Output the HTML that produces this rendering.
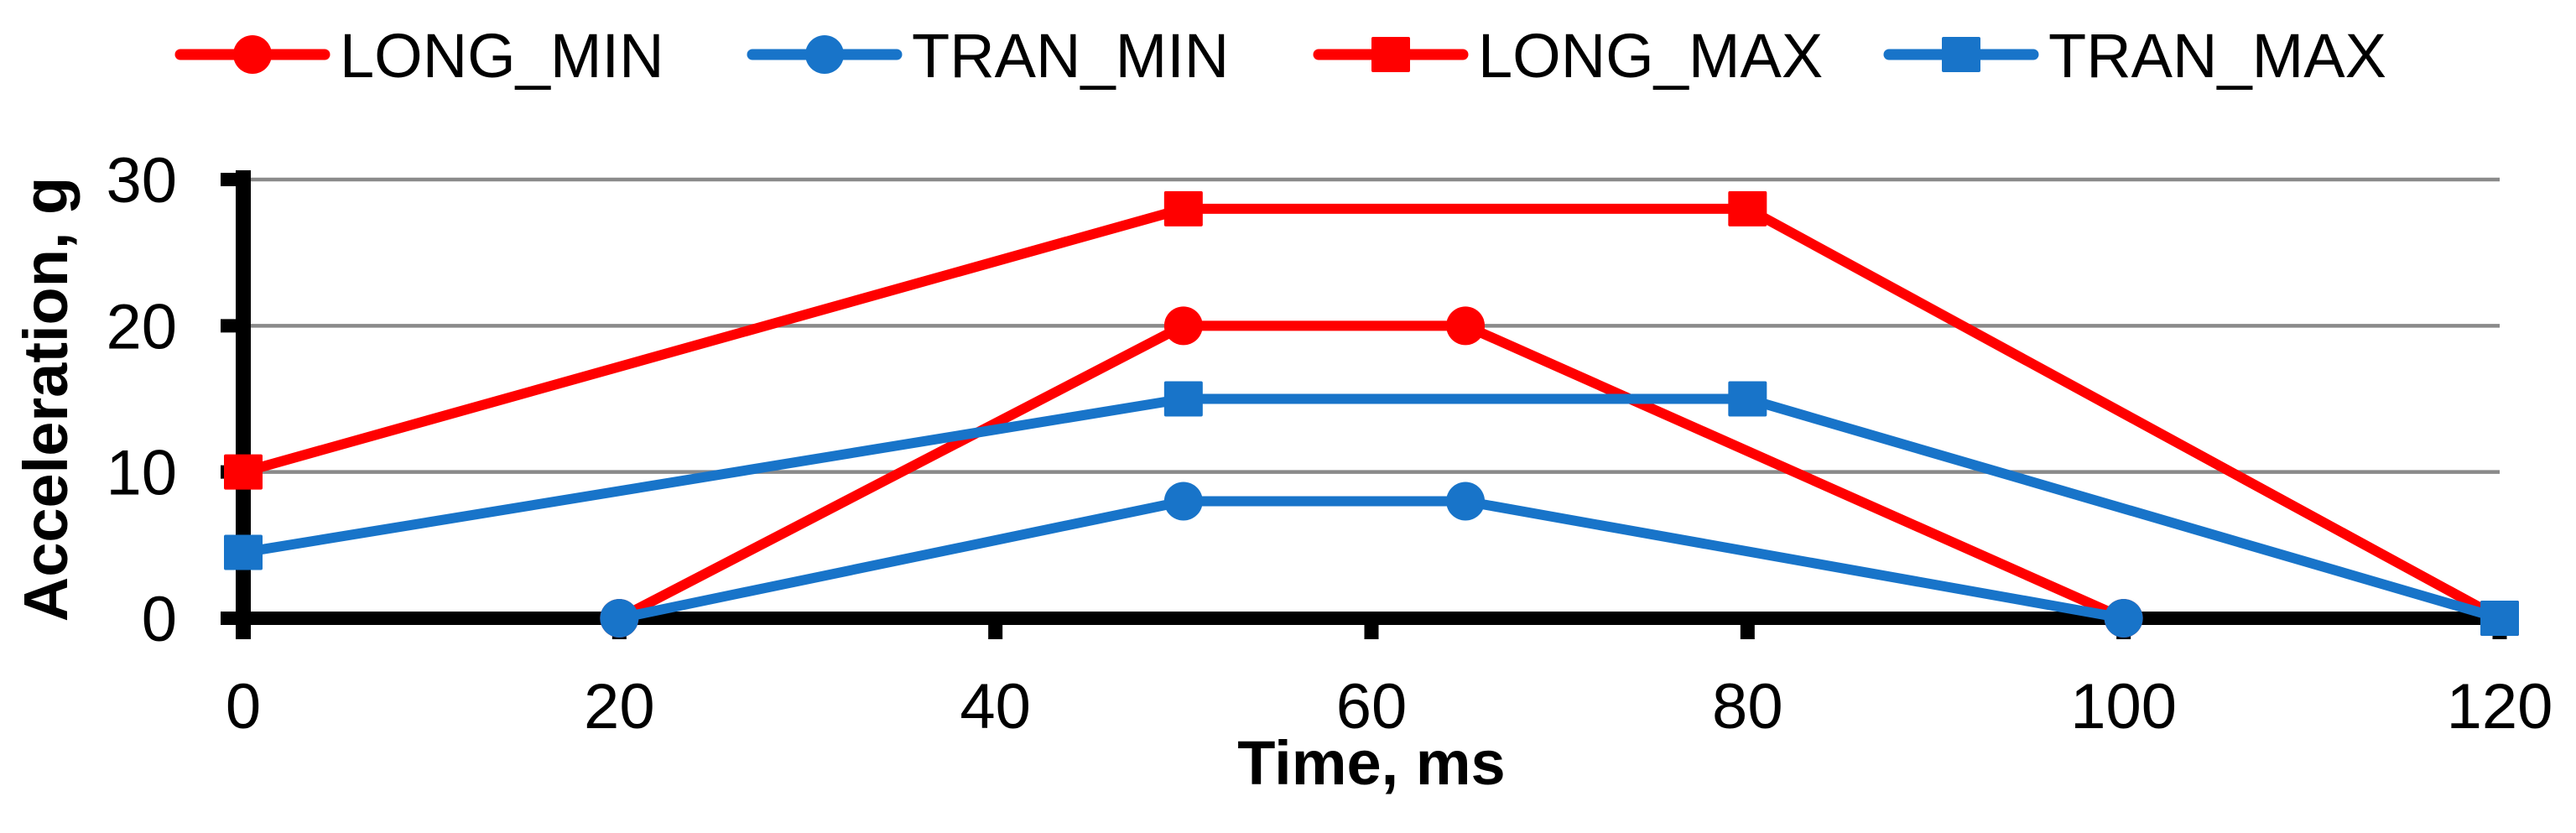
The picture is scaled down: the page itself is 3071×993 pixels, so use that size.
<!DOCTYPE html>
<html><head><meta charset="utf-8"><style>
html,body{margin:0;padding:0;background:#fff;}
svg{display:block;font-family:"Liberation Sans","DejaVu Sans",sans-serif;}
</style></head><body>
<svg id="chart" width="3071" height="993" viewBox="0 0 3071 993" xmlns="http://www.w3.org/2000/svg">
<g id="grid"></g>
<g id="axes"></g>
<g id="series"></g>
<g id="legend"></g>
<text x="1635" y="935" font-size="74" font-weight="bold" text-anchor="middle">Time, ms</text>
<text transform="translate(80,476) rotate(-90)" font-size="74" font-weight="bold" text-anchor="middle">Acceleration, g</text>
</svg>
<script>
const xTicks = [0, 20, 40, 60, 80, 100, 120];
const yTicks = [0, 10, 20, 30];
const seriesNames = ["LONG_MIN", "TRAN_MIN", "LONG_MAX", "TRAN_MAX"];
const longMinX = [20, 50, 65, 100];
const longMinY = [0, 20, 20, 0];
const tranMinX = [20, 50, 65, 100];
const tranMinY = [0, 8, 8, 0];
const longMaxX = [0, 50, 80, 120];
const longMaxY = [10, 28, 28, 0];
const tranMaxX = [0, 50, 80, 120];
const tranMaxY = [4.5, 15, 15, 0];

const NS = "http://www.w3.org/2000/svg";
const X0 = 290, X1 = 2980, Y0 = 737, Y1 = 214;
const xS = v => X0 + (v - 0) / 120 * (X1 - X0);
const yS = v => Y0 - (v - 0) / 30 * (Y0 - Y1);
function mk(tag, attrs, parent) {
  const e = document.createElementNS(NS, tag);
  for (const k in attrs) e.setAttribute(k, attrs[k]);
  parent.appendChild(e);
  return e;
}
const grid = document.getElementById('grid');
const axes = document.getElementById('axes');
const ser = document.getElementById('series');
const leg = document.getElementById('legend');

yTicks.forEach(t => {
  if (t > 0) {
    const g = mk('line', {x1: X0, x2: X1, y1: yS(t), y2: yS(t), stroke: '#8a8a8a', 'stroke-width': 4.5}, grid);
    
    
  }
  const tk = mk('line', {x1: 263, x2: X0, y1: yS(t), y2: yS(t), stroke: '#000', 'stroke-width': 16}, axes);
  
  
  const lb = mk('text', {x: 211, y: yS(t) + 27, 'font-size': 76, 'text-anchor': 'end'}, axes);
  lb.textContent = t;
  
  
});
xTicks.forEach(t => {
  const tk = mk('line', {x1: xS(t), x2: xS(t), y1: Y0, y2: 762, stroke: '#000', 'stroke-width': 17}, axes);
  
  
  const lb = mk('text', {x: xS(t), y: 868, 'font-size': 76, 'text-anchor': 'middle'}, axes);
  lb.textContent = t;
  
  
});
const ya = mk('line', {x1: X0, x2: X0, y1: 203, y2: 762, stroke: '#000', 'stroke-width': 18}, axes);


const xa = mk('line', {x1: X0 - 27, x2: X1, y1: Y0, y2: Y0, stroke: '#000', 'stroke-width': 16}, axes);



const RED = '#ff0000', BLUE = '#1874c9';
const defs = [
  {name: seriesNames[0], xs: longMinX, ys: longMinY, color: RED, marker: 'circle'},
  {name: seriesNames[1], xs: tranMinX, ys: tranMinY, color: BLUE, marker: 'circle'},
  {name: seriesNames[2], xs: longMaxX, ys: longMaxY, color: RED, marker: 'square'},
  {name: seriesNames[3], xs: tranMaxX, ys: tranMaxY, color: BLUE, marker: 'square'}
];
function marker(type, cx, cy, color, parent, name) {
  let m;
  if (type === 'circle') m = mk('circle', {cx: cx, cy: cy, r: 23, fill: color}, parent);
  else m = mk('rect', {x: cx - 23, y: cy - 21, width: 46, height: 42, rx: 2, fill: color}, parent);
  
  
}
defs.forEach(d => {
  const g = mk('g', {}, ser);
  
  
  const pts = d.xs.map((x, i) => xS(x) + ',' + yS(d.ys[i])).join(' ');
  const pl = mk('polyline', {points: pts, fill: 'none', stroke: d.color, 'stroke-width': 12, 'stroke-linejoin': 'round'}, g);
  
  
  d.xs.forEach((x, i) => marker(d.marker, xS(x), yS(d.ys[i]), d.color, g, 'point-' + d.name.toLowerCase()));
});

const legX = [215, 897, 1572, 2252];
defs.forEach((d, i) => {
  const g = mk('g', {}, leg);
  
  
  const x = legX[i];
  mk('line', {x1: x, x2: x + 172, y1: 65, y2: 65, stroke: d.color, 'stroke-width': 13, 'stroke-linecap': 'round'}, g);
  marker(d.marker, x + 86, 65, d.color, g, 'legend-marker');
  const t = mk('text', {x: x + 190, y: 92, 'font-size': 74}, g);
  t.textContent = d.name;
  
  
});
</script>
</body></html>
